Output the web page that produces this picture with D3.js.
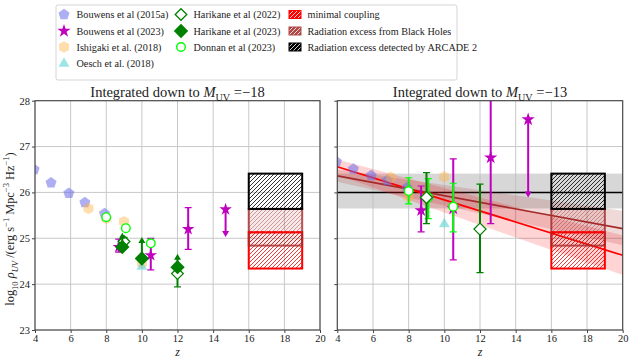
<!DOCTYPE html>
<html>
<head>
<meta charset="utf-8">
<script src="https://cdn.jsdelivr.net/npm/d3@7"></script>
<style>
body{margin:0;background:#fff;}
svg text{font-family:"Liberation Serif","Times New Roman","DejaVu Serif",serif;}
</style>
</head>
<body>
<div id="chart"></div>
<script>
// ---------- data ----------
const xTicks = [4, 6, 8, 10, 12, 14, 16, 18, 20];
const yTicks = [23, 24, 25, 26, 27, 28];
const panelTitles = ["\u221218", "\u221213"];

// Bouwens et al (2015a)
const bouwens15Z = [3.95, 4.9, 5.9, 6.8, 7.9];
const bouwens15Lum18 = [26.50, 26.21, 25.98, 25.78, 25.54];
const bouwens15Lum13 = [26.67, 26.51, 26.37, 26.26, 26.10];
// Ishigaki et al. (2018)
const ishigakiZ = [7, 8, 9, 10];
const ishigakiLum18 = [25.65, 25.43, 25.36, 24.46];
const ishigakiLum13 = [26.33, 25.90, 25.90, 26.34];
// Oesch et al. (2018)
const oeschZ = [10];
const oeschLum18 = [24.38];
const oeschLum13 = [25.31];
// Bouwens et al (2023)
const bouwens23Z = [8.7, 10.5, 12.6];
const bouwens23Lum18 = [24.81, 24.63, 25.20];
const bouwens23Lo18 = [24.70, 24.31, 24.76];
const bouwens23Hi18 = [24.98, 25.00, 25.67];
const bouwens23Lum13 = [25.61, 25.65, 26.76];
const bouwens23Lo13 = [25.14, 24.53, 25.32];
const bouwens23Hi13 = [26.14, 26.73, 28.60];
const bouwens23LimZ = [14.7];
const bouwens23Lim18 = [25.63];
const bouwens23LimTo18 = [25.03];
const bouwens23Lim13 = [27.59];
const bouwens23LimTo13 = [25.89];
// Harikane et al (2022)
const harikane22Z = [9, 12];
const harikane22Lum18 = [24.93, 24.23];
const harikane22Lo18 = [24.85, 23.94];
const harikane22Hi18 = [25.02, 24.40];
const harikane22Lum13 = [25.89, 25.20];
const harikane22Lo13 = [25.32, 24.25];
const harikane22Hi13 = [26.43, 26.18];
// Harikane et al (2023) - lower limits
const harikane23Z = [8.9, 10, 12];
const harikane23Lum18 = [24.81, 24.56, 24.37];
const harikane23LimTo18 = [25.12, 25.03, 24.66];
// Donnan et al (2023)
const donnanZ = [8, 9.1, 10.5];
const donnanLum18 = [25.46, 25.22, 24.89];
const donnanLum13 = [26.03, 25.89, 25.69];
const donnanLo13 = [25.75, 25.43, 25.14];
const donnanHi13 = [26.32, 26.30, 26.20];
// model boxes over z = 16..19
const boxZ = [16, 19];
const arcadeBox = [25.64, 26.41];
const blackHoleBox = [24.84, 25.64];
const minimalBox = [24.34, 25.13];
// right panel model curves
const arcadeLevel = 26.0;
const arcadeBand = [25.65, 26.41];
const modelZ = [4, 20];
const minimalLine = [26.56, 24.63];
const minimalBandLo = [26.38, 24.20];
const minimalBandHi = [26.72, 25.06];
const blackHoleLine = [26.36, 25.21];
const blackHoleBandLo = [26.23, 24.85];
const blackHoleBandHi = [26.50, 25.60];

// ---------- colours ----------
const cBlue = "#6b6be8", cOrange = "#ffb347", cCyan = "#5fd3d3",
	cMag = "#bf00bf", cGreen = "#008000", cLime = "#00ff00",
	cBrown = "#a52a2a", cRed = "#ff0000";
const serif = "Liberation Serif";

const W = 632, H = 360;
const svg = d3.select("#chart").append("svg").attr("width", W).attr("height", H)
	.attr("font-family", serif);
const defs = svg.append("defs");

function hatch(id, color, bg){
	let p = defs.append("pattern").attr("id", id)
		.attr("patternUnits", "userSpaceOnUse").attr("width", 4).attr("height", 4);
	if(bg){
		p.append("rect").attr("width", 4).attr("height", 4).attr("fill", bg);
	}
	p.append("path").attr("d", "M-1,1L1,-1M0,4L4,0M3,5L5,3")
		.attr("stroke", color).attr("stroke-width", 0.8);
}
hatch("hBlack", "#000");
hatch("hBrown", "rgba(165,42,42,0.55)");
hatch("hRed", cRed);
hatch("lgRed", "#fff", cRed);
hatch("lgBrown", "#fff", "#b04848");
hatch("lgBlack", "#fff", "#000");

function polyPath(n, r){
	let pts = d3.range(n).map(function(i){
		let a = -Math.PI/2 + i*2*Math.PI/n;
		return [r*Math.cos(a), r*Math.sin(a)];
	});
	return "M" + pts.map(p => p[0].toFixed(2) + "," + p[1].toFixed(2)).join("L") + "Z";
}
const shapes = {
	pentagon: r => polyPath(5, r),
	hexagon: r => polyPath(6, r),
	diamond: r => polyPath(4, r),
	triangle: r => polyPath(3, r),
	star: r => d3.symbol(d3.symbolStar, r*r/0.8908)(),
	circle: r => d3.symbol(d3.symbolCircle, Math.PI*r*r)()
};

const y = d3.scaleLinear().domain([23, 28]).range([330, 100.7]);

// writes simple math-like text made of parts {t, sub, sup, it}
function mathText(sel, parts, size){
	let shift = 0;
	parts.forEach(function(p){
		let target = p.sub ? size*0.3 : (p.sup ? -size*0.42 : 0);
		let ts = sel.append("tspan").attr("dy", target - shift).text(p.t);
		if(p.sub || p.sup) ts.style("font-size", (size*0.7) + "px");
		if(p.it) ts.style("font-style", "italic");
		shift = target;
	});
}

function drawMarkers(g, x, zs, vs, shape, r, st){
	g.selectAll(null).data(zs.map((z, i) => [z, vs[i]])).join("path")
		.attr("transform", d => "translate(" + x(d[0]) + "," + y(d[1]) + ")")
		.attr("d", shapes[shape](r))
		.attr("fill", st.fill)
		.attr("fill-opacity", st.fo === undefined ? 1 : st.fo)
		.attr("stroke", st.stroke || "none")
		.attr("stroke-width", st.sw || 0);
}

function drawErrors(g, x, zs, lo, hi, color, lw){
	zs.forEach(function(z, i){
		g.append("line").attr("x1", x(z)).attr("x2", x(z))
			.attr("y1", y(lo[i])).attr("y2", y(hi[i]))
			.attr("stroke", color).attr("stroke-width", lw);
		[lo[i], hi[i]].forEach(function(v){
			g.append("line").attr("x1", x(z) - 3.5).attr("x2", x(z) + 3.5)
				.attr("y1", y(v)).attr("y2", y(v))
				.attr("stroke", color).attr("stroke-width", 1.2);
		});
	});
}

function drawArrows(g, x, zs, from, to, color){
	zs.forEach(function(z, i){
		let x0 = x(z), y0 = y(from[i]), y1 = y(to[i]), dir = y1 < y0 ? -1 : 1;
		g.append("line").attr("x1", x0).attr("x2", x0).attr("y1", y0).attr("y2", y1 - dir*4)
			.attr("stroke", color).attr("stroke-width", 2);
		g.append("path")
			.attr("d", "M" + (x0 - 3.5) + "," + (y1 - dir*6) + "L" + (x0 + 3.5) + "," + (y1 - dir*6) + "L" + x0 + "," + y1 + "Z")
			.attr("fill", color);
	});
}

function drawBoxes(g, x){
	let bx = x(boxZ[0]), bw = x(boxZ[1]) - x(boxZ[0]);
	g.append("rect").attr("x", bx).attr("width", bw)
		.attr("y", y(minimalBox[1])).attr("height", y(minimalBox[0]) - y(minimalBox[1]))
		.attr("fill", "url(#hRed)").attr("stroke", cRed).attr("stroke-width", 2);
	g.append("rect").attr("x", bx).attr("width", bw)
		.attr("y", y(blackHoleBox[1])).attr("height", y(blackHoleBox[0]) - y(blackHoleBox[1]))
		.attr("fill", "rgba(165,42,42,0.10)").attr("stroke", "rgba(165,42,42,0.8)").attr("stroke-width", 2);
	g.append("rect").attr("x", bx).attr("width", bw)
		.attr("y", y(blackHoleBox[1])).attr("height", y(blackHoleBox[0]) - y(blackHoleBox[1]))
		.attr("fill", "url(#hBrown)");
	// top edge of minimal box shows dashed through the brown patch
	g.append("line").attr("x1", bx).attr("x2", bx + bw)
		.attr("y1", y(minimalBox[1])).attr("y2", y(minimalBox[1]))
		.attr("stroke", cRed).attr("stroke-width", 2).attr("stroke-dasharray", "4,2");
	g.append("rect").attr("x", bx).attr("width", bw)
		.attr("y", y(arcadeBox[1])).attr("height", y(arcadeBox[0]) - y(arcadeBox[1]))
		.attr("fill", "url(#hBlack)").attr("stroke", "#000").attr("stroke-width", 2);
}

function drawPanel(idx, x0, x1){
	let x = d3.scaleLinear().domain([4, 20]).range([x0, x1]);
	let clipId = "clip" + idx;
	defs.append("clipPath").attr("id", clipId).append("rect")
		.attr("x", x0).attr("y", y(28)).attr("width", x1 - x0).attr("height", y(23) - y(28));
	let g = svg.append("g");

	// grid
	g.selectAll(null).data(xTicks).join("line")
		.attr("x1", d => x(d)).attr("x2", d => x(d)).attr("y1", y(23)).attr("y2", y(28))
		.attr("stroke", "#c8c8c8").attr("stroke-width", 1);
	g.selectAll(null).data(yTicks).join("line")
		.attr("x1", x0).attr("x2", x1).attr("y1", d => y(d)).attr("y2", d => y(d))
		.attr("stroke", "#c8c8c8").attr("stroke-width", 1);

	let pg = g.append("g").attr("clip-path", "url(#" + clipId + ")");
	let big = idx === 1;

	if(big){
		let area = d3.area().x(d => x(d[0])).y0(d => y(d[1])).y1(d => y(d[2]));
		pg.append("rect").attr("x", x0).attr("width", x1 - x0)
			.attr("y", y(arcadeBand[1])).attr("height", y(arcadeBand[0]) - y(arcadeBand[1]))
			.attr("fill", "#bdbdbd").attr("fill-opacity", 0.6);
		pg.append("line").attr("x1", x0).attr("x2", x1)
			.attr("y1", y(arcadeLevel)).attr("y2", y(arcadeLevel))
			.attr("stroke", "#000").attr("stroke-width", 1.5);
		pg.append("path").datum(modelZ.map((z, i) => [z, blackHoleBandLo[i], blackHoleBandHi[i]]))
			.attr("d", area).attr("fill", cBrown).attr("fill-opacity", 0.18);
		pg.append("path").datum(modelZ.map((z, i) => [z, minimalBandLo[i], minimalBandHi[i]]))
			.attr("d", area).attr("fill", cRed).attr("fill-opacity", 0.17);
		let line = d3.line().x(d => x(d[0])).y(d => y(d[1]));
		pg.append("path").datum(modelZ.map((z, i) => [z, blackHoleLine[i]]))
			.attr("d", line).attr("fill", "none").attr("stroke", cBrown).attr("stroke-width", 1.6);
		pg.append("path").datum(modelZ.map((z, i) => [z, minimalLine[i]]))
			.attr("d", line).attr("fill", "none").attr("stroke", cRed).attr("stroke-width", 1.8);
	}

	drawBoxes(pg, x);

	drawMarkers(pg, x, bouwens15Z, big ? bouwens15Lum13 : bouwens15Lum18, "pentagon", 5.8, {fill: cBlue, fo: 0.55});
	drawMarkers(pg, x, ishigakiZ, big ? ishigakiLum13 : ishigakiLum18, "hexagon", 5.8, {fill: cOrange, fo: 0.45});
	drawMarkers(pg, x, oeschZ, big ? oeschLum13 : oeschLum18, "triangle", 6.3, {fill: cCyan, fo: 0.6});

	if(big){
		drawErrors(pg, x, bouwens23Z, bouwens23Lo13, bouwens23Hi13, cMag, 2);
		drawArrows(pg, x, bouwens23LimZ, bouwens23Lim13, bouwens23LimTo13, cMag);
		drawMarkers(pg, x, bouwens23Z.concat(bouwens23LimZ), bouwens23Lum13.concat(bouwens23Lim13), "star", 7, {fill: cMag});
		drawErrors(pg, x, donnanZ, donnanLo13, donnanHi13, cLime, 2);
		drawMarkers(pg, x, donnanZ, donnanLum13, "circle", 4.3, {fill: "#fff", stroke: cLime, sw: 1.4});
		drawErrors(pg, x, harikane22Z, harikane22Lo13, harikane22Hi13, cGreen, 2);
		drawMarkers(pg, x, harikane22Z, harikane22Lum13, "diamond", 6, {fill: "#fff", stroke: cGreen, sw: 1.3});
	}else{
		drawErrors(pg, x, bouwens23Z, bouwens23Lo18, bouwens23Hi18, cMag, 2);
		drawArrows(pg, x, bouwens23LimZ, bouwens23Lim18, bouwens23LimTo18, cMag);
		drawMarkers(pg, x, bouwens23Z.concat(bouwens23LimZ), bouwens23Lum18.concat(bouwens23Lim18), "star", 6.6, {fill: cMag});
		drawErrors(pg, x, harikane22Z, harikane22Lo18, harikane22Hi18, cGreen, 2);
		drawMarkers(pg, x, harikane22Z, harikane22Lum18, "diamond", 5.8, {fill: "#fff", stroke: cGreen, sw: 1.3});
		drawArrows(pg, x, harikane23Z, harikane23Lum18, harikane23LimTo18, cGreen);
		drawMarkers(pg, x, harikane23Z, harikane23Lum18, "diamond", 7.2, {fill: cGreen});
		drawMarkers(pg, x, donnanZ, donnanLum18, "circle", 4.3, {fill: "#fff", stroke: cLime, sw: 1.4});
	}

	// axes
	let ax = g.append("g").attr("transform", "translate(0," + y(23) + ")")
		.call(d3.axisBottom(x).tickValues(xTicks).tickSize(3).tickPadding(1.5).tickFormat(d3.format("d")));
	let ay = g.append("g").attr("transform", "translate(" + x0 + ",0)")
		.call(d3.axisLeft(y).tickValues(yTicks).tickSize(3).tickPadding(2).tickFormat(idx === 0 ? d3.format("d") : ""));
	[ax, ay].forEach(function(a){
		a.attr("font-family", serif).attr("font-size", 10.5);
		a.select(".domain").remove();
		a.selectAll("line").attr("stroke", "#444");
		a.selectAll("text").attr("fill", "#222");
	});
	g.append("rect").attr("x", x0).attr("y", y(28)).attr("width", x1 - x0).attr("height", y(23) - y(28))
		.attr("fill", "none").attr("stroke", "#444").attr("stroke-width", 1.1);

	// title
	let t = g.append("text").attr("x", (x0 + x1)/2).attr("y", 97).attr("text-anchor", "middle")
		.style("font-size", "14.5px").attr("fill", "#222");
	mathText(t, [{t: "Integrated down to "}, {t: "M", it: true}, {t: "UV", sub: true}, {t: " =" + panelTitles[idx]}], 14.5);

	g.append("text").attr("x", (x0 + x1)/2).attr("y", 356).attr("text-anchor", "middle")
		.style("font-size", "12px").style("font-style", "italic").attr("fill", "#222").text("z");
}

drawPanel(0, 35, 320);
drawPanel(1, 337.3, 622.7);

// y label
let yl = svg.append("text").attr("transform", "translate(14,229) rotate(-90)")
	.attr("text-anchor", "middle").style("font-size", "12.3px").attr("fill", "#222");
mathText(yl, [{t: "log"}, {t: "10", sub: true}, {t: " \u03c1", it: true}, {t: "UV", sub: true, it: true},
	{t: " /(erg s"}, {t: "\u22121", sup: true}, {t: " Mpc"}, {t: "\u22123", sup: true},
	{t: " Hz"}, {t: "\u22121", sup: true}, {t: ")"}], 12.3);

// legend
const legend = svg.append("g");
legend.append("rect").attr("x", 56).attr("y", 5).attr("width", 401).attr("height", 75).attr("rx", 2)
	.attr("fill", "#fff").attr("fill-opacity", 0.85).attr("stroke", "#d5d5d5");
const legendItems = [
	{col: 0, row: 0, label: "Bouwens et al (2015a)", shape: "pentagon", r: 5.8, st: {fill: cBlue, fo: 0.55}},
	{col: 0, row: 1, label: "Bouwens et al (2023)", shape: "star", r: 7, st: {fill: cMag}},
	{col: 0, row: 2, label: "Ishigaki et al. (2018)", shape: "hexagon", r: 5.8, st: {fill: cOrange, fo: 0.45}},
	{col: 0, row: 3, label: "Oesch et al. (2018)", shape: "triangle", r: 6.3, st: {fill: cCyan, fo: 0.6}},
	{col: 1, row: 0, label: "Harikane et al (2022)", shape: "diamond", r: 5.8, st: {fill: "#fff", stroke: cGreen, sw: 1.3}},
	{col: 1, row: 1, label: "Harikane et al (2023)", shape: "diamond", r: 7.2, st: {fill: cGreen}},
	{col: 1, row: 2, label: "Donnan et al (2023)", shape: "circle", r: 4.3, st: {fill: "#fff", stroke: cLime, sw: 1.4}},
	{col: 2, row: 0, label: "minimal coupling", patch: "lgRed", edge: cRed},
	{col: 2, row: 1, label: "Radiation excess from Black Holes", patch: "lgBrown", edge: "#b04848"},
	{col: 2, row: 2, label: "Radiation excess detected by ARCADE 2", patch: "lgBlack", edge: "#000"}
];
const colX = [64, 181, 295], rowY = [14.5, 31, 47, 63.5];
legendItems.forEach(function(it){
	let cx = colX[it.col], cy = rowY[it.row];
	if(it.patch){
		legend.append("rect").attr("x", cx - 6).attr("y", cy - 4).attr("width", 12).attr("height", 8)
			.attr("fill", "url(#" + it.patch + ")").attr("stroke", it.edge).attr("stroke-width", 1);
	}else{
		legend.append("path").attr("transform", "translate(" + cx + "," + cy + ")")
			.attr("d", shapes[it.shape](it.r))
			.attr("fill", it.st.fill).attr("fill-opacity", it.st.fo === undefined ? 1 : it.st.fo)
			.attr("stroke", it.st.stroke || "none").attr("stroke-width", it.st.sw || 0);
	}
	legend.append("text").attr("x", cx + 12.5).attr("y", cy + 3.6)
		.style("font-size", "10.2px").attr("fill", "#222").text(it.label);
});
</script>
</body>
</html>
